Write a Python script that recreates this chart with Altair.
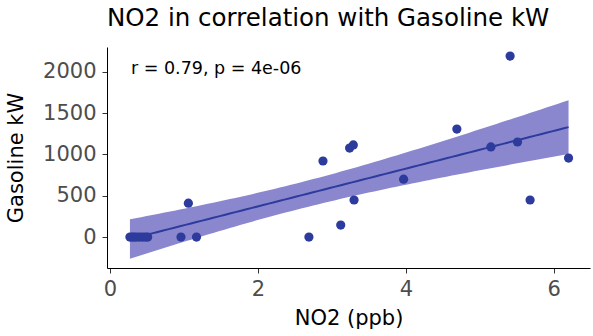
import altair as alt
import numpy as np
import pandas as pd

# Observations: NO2 concentration (ppb) and gasoline generator output (kW)
no2_ppb = [0.27, 0.30, 0.33, 0.36, 0.40, 0.44, 0.48, 0.51,
           0.96, 1.06, 1.17, 2.69, 2.88, 3.12, 3.24, 3.29,
           3.30, 3.97, 4.69, 5.15, 5.41, 5.51, 5.68, 6.20]
gasoline_kw = [0, 0, 0, 0, 0, 0, 0, 0,
               0, 410, 0, 0, 920, 145, 1077, 1114,
               448, 700, 1307, 1090, 2190, 1150, 448, 956]

stat_label = "r = 0.79, p = 4e-06"

points = pd.DataFrame({"no2": no2_ppb, "kw": gasoline_kw})

# Ordinary least squares fit with a 95% confidence band for the mean
x = np.asarray(no2_ppb, dtype=float)
y = np.asarray(gasoline_kw, dtype=float)
n = len(x)
slope, intercept = np.polyfit(x, y, 1)
resid = y - (intercept + slope * x)
s = np.sqrt(np.sum(resid ** 2) / (n - 2))
t_crit = 2.074  # Student t, 0.975 quantile, 22 degrees of freedom
grid = np.linspace(x.min(), x.max(), 80)
fit = intercept + slope * grid
se = s * np.sqrt(1.0 / n + (grid - x.mean()) ** 2 / np.sum((x - x.mean()) ** 2))
band = pd.DataFrame({"no2": grid, "fit": fit,
                     "lo": fit - t_crit * se, "hi": fit + t_crit * se})

FONT = "DejaVu Sans"
POINT_COLOR = "#2D3B9C"
BAND_COLOR = "#8A87CF"

xscale = alt.Scale(domain=[-0.04, 6.49], nice=False, zero=False)
yscale = alt.Scale(domain=[-375, 2300], nice=False, zero=False)

xaxis = alt.Axis(values=[0, 2, 4, 6], format="d", title="NO2 (ppb)", grid=False,
                 tickSize=5, labelPadding=5, titlePadding=8)
yaxis = alt.Axis(values=[0, 500, 1000, 1500, 2000], format="d", title="Gasoline kW",
                 grid=False, tickSize=5, labelPadding=6, titlePadding=16)

ribbon = alt.Chart(band).mark_area(color=BAND_COLOR, opacity=1).encode(
    x=alt.X("no2:Q", scale=xscale, axis=xaxis),
    y=alt.Y("lo:Q", scale=yscale, axis=yaxis),
    y2="hi:Q",
)

line = alt.Chart(band).mark_line(color=POINT_COLOR, strokeWidth=2).encode(
    x=alt.X("no2:Q", scale=xscale, axis=xaxis),
    y=alt.Y("fit:Q", scale=yscale, axis=yaxis),
)

dots = alt.Chart(points).mark_circle(color=POINT_COLOR, size=85, opacity=1).encode(
    x=alt.X("no2:Q", scale=xscale, axis=xaxis),
    y=alt.Y("kw:Q", scale=yscale, axis=yaxis),
)

note = alt.Chart(pd.DataFrame({"label": [stat_label]})).mark_text(
    align="left", baseline="middle", font=FONT, fontSize=17.5, color="#000000"
).encode(x=alt.value(24), y=alt.value(22), text="label:N")

chart = alt.layer(ribbon, line, dots, note).properties(
    width=483,
    height=221,
    autosize="none",
    padding={"left": 107, "top": 47, "right": 3, "bottom": 68},
    title=alt.TitleParams(
        "NO2 in correlation with Gasoline kW",
        anchor="start", frame="group", font=FONT, fontSize=24.5,
        fontWeight="normal", color="#000000", offset=16,
    ),
).configure(background="#FFFFFF").configure_view(stroke=None).configure_axis(
    domainColor="#000000", domainWidth=1, tickColor="#333333", tickWidth=1,
    labelFont=FONT, labelFontSize=21, labelColor="#4D4D4D",
    titleFont=FONT, titleFontSize=21, titleFontWeight="normal", titleColor="#000000",
)

chart.save("out.html", embed_options={"renderer": "svg", "actions": False})
